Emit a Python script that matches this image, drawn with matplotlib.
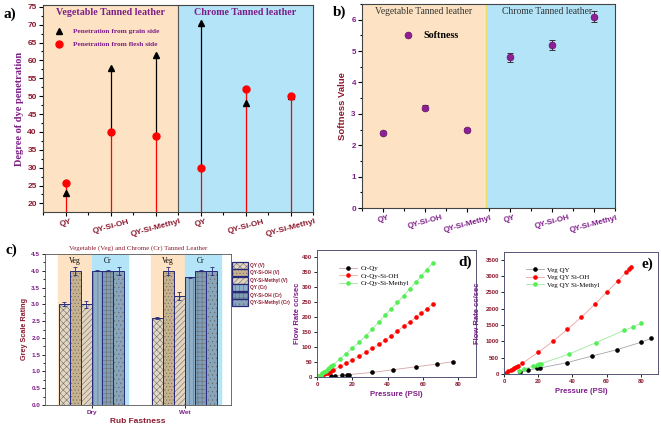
import matplotlib.pyplot as plt
from matplotlib.lines import Line2D
from matplotlib.patches import Patch
from matplotlib.legend_handler import HandlerTuple
from matplotlib.ticker import MultipleLocator

plt.rcParams['hatch.linewidth'] = 0.4
plt.rcParams['hatch.color'] = '#6e6e6e'

SERIF = 'Liberation Serif'
SANS = 'Liberation Sans'
MAROON = '#8b1a2e'
PURPLE = '#7d1d88'
ORANGE_BG = '#fde3c3'
BLUE_BG = '#b3e4f8'
NAVY = '#27297a'

samples = ["QY", "QY-Si-OH", "QY-Si-Methyl", "QY", "QY-Si-OH", "QY-Si-Methyl"]

# a) degree of dye penetration
grain_side = [23, 58, 61.5, 70.5, 48, 50]
flesh_side = [25.8, 40, 38.8, 30, 52, 50]

# b) softness
softness = [2.4, 3.2, 2.5, 4.8, 5.2, 6.1]
softness_err = [0.04, 0.07, 0.05, 0.14, 0.16, 0.17]

# c) rub fastness
rub_groups = ["Dry", "Wet"]
rub_series = ["QY (V)", "QY-Si-OH (V)", "QY-Si-Methyl (V)",
              "QY (Cr)", "QY-Si-OH (Cr)", "QY-Si-Methyl (Cr)"]
rub_dry = [3.0, 4.0, 3.0, 4.0, 4.0, 4.0]
rub_wet = [2.6, 4.0, 3.25, 3.8, 4.0, 4.0]
rub_dry_err = [0.06, 0.12, 0.11, 0.01, 0.01, 0.12]
rub_wet_err = [0.03, 0.12, 0.11, 0.01, 0.01, 0.12]

# d) chrome tanned flow rate
cr_qy_p = [8, 10, 14, 17, 18, 31, 43, 56, 68, 77]
cr_qy_f = [3, 3, 5, 7, 8, 15, 24, 34, 43, 51]
cr_oh_p = [1, 2, 3, 4, 5, 6, 7, 8, 9, 13, 16.5, 20, 24, 27.5, 31, 35,
           38.5, 42, 45.5, 49, 52.5, 56, 59, 62, 65.5]
cr_oh_f = [2, 4, 7, 9, 12, 14, 17, 20, 23, 35, 46, 58, 70, 82, 95, 108,
           122, 136, 153, 168, 183, 198, 212, 226, 243]
cr_me_p = [1, 2, 3, 4, 5, 6, 7, 8, 9, 13, 16.5, 20, 24, 27.5, 31, 35,
           38.5, 42, 45.5, 49, 52.5, 56, 59, 62, 65.5]
cr_me_f = [4, 8, 12, 16, 21, 26, 30, 35, 40, 60, 78, 96, 116, 136, 158,
           183, 205, 227, 248, 270, 293, 315, 335, 357, 378]

# e) vegetable tanned flow rate
veg_qy_p = [9.4, 14.3, 19.4, 21, 36.7, 51.4, 66, 79.8, 85.9]
veg_qy_f = [60, 122, 173, 183, 346, 549, 743, 966, 1088]
veg_oh_p = [1.4, 2.5, 3.8, 5, 6, 7, 8, 10.6, 20, 28.8, 37, 45, 53, 60,
            66.5, 71.4, 73.3, 74.3]
veg_oh_f = [40, 80, 120, 160, 195, 225, 255, 326, 661, 1007, 1363, 1729,
            2126, 2503, 2838, 3113, 3215, 3265]
veg_me_p = [8.8, 11.6, 17, 19.4, 20.6, 21.6, 38, 53.7, 70, 75.3, 80]
veg_me_f = [100, 150, 245, 285, 305, 315, 610, 956, 1333, 1434, 1546]


def style_ticks(ax, color, size, family=SANS):
    for lab in ax.get_xticklabels() + ax.get_yticklabels():
        lab.set_color(color)
        lab.set_fontsize(size)
        lab.set_fontweight('bold')
        lab.set_family(family)


def plot_penetration(ax):
    x = list(range(len(samples)))
    ax.axvspan(-0.5, 2.5, color=ORANGE_BG, zorder=0)
    ax.axvspan(2.5, 5.5, color=BLUE_BG, zorder=0)
    ax.axvline(2.5, color='#555555', lw=0.8, zorder=1)
    ymin = 17.6
    ax.vlines(x, ymin, flesh_side, colors='red', lw=0.9, zorder=2)
    ax.vlines(x, flesh_side, [max(g, f) for g, f in zip(grain_side, flesh_side)],
              colors='black', lw=0.9, zorder=2)
    ax.plot(x, grain_side, '^', color='black', ms=5, zorder=3)
    ax.plot(x, flesh_side, 'o', color='red', ms=5, zorder=4)
    ax.set_xlim(-0.5, 5.5)
    ax.set_ylim(ymin, 75.5)
    ax.set_xticks(x)
    ax.set_xticklabels(samples, rotation=15, ha='center')
    ax.xaxis.set_minor_locator(MultipleLocator(0.5))
    ax.yaxis.set_major_locator(MultipleLocator(5))
    ax.yaxis.set_minor_locator(MultipleLocator(2.5))
    ax.tick_params(which='both', direction='out', length=3, width=0.8, pad=1.5)
    ax.tick_params(which='minor', length=1.8)
    style_ticks(ax, MAROON, 6)
    ax.set_ylabel("Degree of dye penetration", family=SERIF, fontweight='bold',
                  fontsize=7.5, color=PURPLE, labelpad=2)
    ax.text(1.0, 73.5, "Vegetable Tanned leather", family=SERIF, fontweight='bold',
            fontsize=7.2, color=PURPLE, ha='center', va='center')
    ax.text(4.0, 73.5, "Chrome Tanned leather", family=SERIF, fontweight='bold',
            fontsize=7.2, color=PURPLE, ha='center', va='center')
    handles = [Line2D([], [], marker='^', ls='none', color='black', ms=5),
               Line2D([], [], marker='o', ls='none', color='red', ms=5)]
    ax.legend(handles, ["Penetration from grain side", "Penetration from flesh side"],
              loc='upper left', bbox_to_anchor=(0.02, 0.92), frameon=False,
              handletextpad=1.2, labelspacing=0.9, handlelength=1.2,
              prop={'family': SERIF, 'weight': 'bold', 'size': 5.3},
              labelcolor=PURPLE)
    for s in ax.spines.values():
        s.set_color('#444444')
        s.set_linewidth(0.8)


def plot_softness(ax):
    x = list(range(len(samples)))
    ax.axvspan(-0.5, 2.45, color=ORANGE_BG, zorder=0)
    ax.axvspan(2.45, 5.5, color=BLUE_BG, zorder=0)
    ax.axvline(2.45, color='#e8e070', lw=0.8, zorder=1)
    ax.errorbar(x, softness, yerr=softness_err, fmt='none', ecolor='#333333',
                elinewidth=0.7, capsize=2, capthick=0.7, zorder=2)
    ax.plot(x, softness, 'o', color='#8e1f94', mec='#5a1060', mew=0.4, ms=5, zorder=3)
    ax.plot([0.6], [5.5], 'o', color='#8e1f94', mec='#5a1060', mew=0.4, ms=5)
    ax.text(0.95, 5.5, "Softness", family=SERIF, fontweight='bold', fontsize=7.2,
            color='black', va='center')
    ax.set_xlim(-0.5, 5.5)
    ax.set_ylim(0, 6.5)
    ax.set_xticks(x)
    ax.set_xticklabels(samples, rotation=15, ha='center')
    ax.xaxis.set_minor_locator(MultipleLocator(0.5))
    ax.yaxis.set_minor_locator(MultipleLocator(0.5))
    ax.tick_params(which='both', direction='out', length=3, width=0.8, pad=1.5)
    ax.tick_params(which='minor', length=1.8)
    style_ticks(ax, PURPLE, 5.8)
    ax.set_ylabel("Softness Value", family=SANS, fontweight='bold', fontsize=6.8,
                  color=MAROON, labelpad=3)
    ax.text(0.95, 6.25, "Vegetable Tanned leather", family=SERIF, fontsize=6.9,
            color='#333333', ha='center', va='center')
    ax.text(3.9, 6.25, "Chrome Tanned leather", family=SERIF, fontsize=6.9,
            color='#333333', ha='center', va='center')
    for s in ax.spines.values():
        s.set_color('#444444')
        s.set_linewidth(0.8)


def plot_rub(ax, fig):
    w = 0.118
    faces = ['#e4d7c1', '#c8b28d', '#e2d4be', '#8fb0c8', '#7e9fb8', '#88a5bb']
    hatches = ['xxxxx', '.....', '//////', '||||', '++++', '....']
    for c in range(len(rub_groups)):
        ax.axvspan(c - 3 * w - 0.005, c, ymax=1.0, color=ORANGE_BG, zorder=0)
        ax.axvspan(c, c + 3 * w + 0.035, color=BLUE_BG, zorder=0)
        ax.text(c - 1.5 * w, 4.3, "Veg", family=SERIF, fontsize=5.5,
                color='black', ha='center', va='center')
        ax.text(c + 1.5 * w, 4.3, "Cr", family=SERIF, fontsize=5.5,
                color='black', ha='center', va='center')
    handles = []
    for i in range(len(rub_series)):
        pos = [c + (i - 2.5) * w for c in range(len(rub_groups))]
        vals = [rub_dry[i], rub_wet[i]]
        errs = [rub_dry_err[i], rub_wet_err[i]]
        ax.bar(pos, vals, w, color=faces[i], hatch=hatches[i], zorder=2)
        ax.bar(pos, vals, w, fill=False, edgecolor=NAVY, lw=0.7, zorder=3)
        ax.errorbar(pos, vals, yerr=errs, fmt='none', ecolor=NAVY, elinewidth=0.6,
                    capsize=1.6, capthick=0.6, zorder=4)
        handles.append((Patch(facecolor=faces[i], hatch=hatches[i]),
                        Patch(fill=False, edgecolor=NAVY, lw=0.9)))
    ax.set_xlim(-0.5, 1.5)
    ax.set_ylim(0, 4.5)
    ax.set_xticks(range(len(rub_groups)))
    ax.set_xticklabels(rub_groups)
    ax.yaxis.set_major_locator(MultipleLocator(0.5))
    ax.yaxis.set_minor_locator(MultipleLocator(0.25))
    ax.tick_params(which='both', direction='out', length=2, width=0.6, pad=1.5)
    ax.tick_params(which='minor', length=1.2)
    style_ticks(ax, PURPLE, 4.6)
    ax.set_ylabel("Grey Scale Rating", family=SANS, fontweight='bold', fontsize=5.2,
                  color=MAROON, labelpad=2)
    ax.set_xlabel("Rub Fastness", family=SANS, fontweight='bold', fontsize=6,
                  color=MAROON, labelpad=2)
    ax.set_title("Vegetable (Veg) and Chrome (Cr) Tanned Leather", family=SERIF,
                 fontsize=5, color=MAROON, pad=3)
    for s in ax.spines.values():
        s.set_color('#555555')
        s.set_linewidth(0.6)
    fig.legend(handles, rub_series, loc='upper left',
               bbox_to_anchor=(232 / 661, 1 - 262 / 428), frameon=False,
               handler_map={tuple: HandlerTuple(ndivide=1, pad=0)},
               handlelength=3.4, handleheight=1.9, handletextpad=0.4,
               labelspacing=0.1, borderaxespad=0, borderpad=0,
               prop={'family': SANS, 'size': 3.4, 'weight': 'bold'},
               labelcolor=MAROON)


def flow_axes(ax, ymax, ystep, label, ypad):
    ax.set_xlim(0, 90)
    ax.set_ylim(0, ymax)
    ax.xaxis.set_major_locator(MultipleLocator(20))
    ax.yaxis.set_major_locator(MultipleLocator(ystep))
    ax.tick_params(which='both', direction='out', length=2, width=0.6, pad=1.5)
    style_ticks(ax, MAROON, 4.3)
    ax.set_xlabel("Pressure (PSI)", family=SANS, fontweight='bold', fontsize=5.5,
                  color=PURPLE, labelpad=3)
    ax.set_ylabel("Flow Rate cc/sec", family=SANS, fontweight='bold', fontsize=5.5,
                  color=PURPLE, labelpad=ypad)
    ax.text(0.93, 0.9, label, transform=ax.transAxes, family=SERIF,
            fontweight='bold', fontsize=11, ha='center', va='center')
    for s in ax.spines.values():
        s.set_color('#555577')
        s.set_linewidth(0.7)


def plot_flow(ax, series, ymax, ystep, label, ypad=3):
    for p, f, mc, lc, name in series:
        ax.plot(p, f, '-o', color=lc, lw=0.6, ms=2.3, mfc=mc, mec=mc, label=name)
    flow_axes(ax, ymax, ystep, label, ypad)
    ax.legend(loc='upper left', bbox_to_anchor=(0.1, 0.93), frameon=False,
              handlelength=2.6, handletextpad=0.5, labelspacing=0.25,
              prop={'family': SERIF, 'size': 5})


fig = plt.figure(figsize=(6.61, 4.28), dpi=100)
ax_a = fig.add_axes([43 / 661, 1 - 212 / 428, 270 / 661, 207 / 428])
ax_b = fig.add_axes([362 / 661, 1 - 208 / 428, 253 / 661, 204 / 428])
ax_c = fig.add_axes([45 / 661, 1 - 405 / 428, 186 / 661, 151 / 428])
ax_d = fig.add_axes([317 / 661, 1 - 377 / 428, 159 / 661, 127 / 428])
ax_e = fig.add_axes([504 / 661, 1 - 374 / 428, 154 / 661, 122 / 428])

plot_penetration(ax_a)
plot_softness(ax_b)
plot_rub(ax_c, fig)
plot_flow(ax_d, [(cr_qy_p, cr_qy_f, 'black', '#d4a4a4', "Cr-Qy"),
                 (cr_oh_p, cr_oh_f, 'red', '#f0b090', "Cr-Qy-Si-OH"),
                 (cr_me_p, cr_me_f, '#55ee55', '#9be89b', "Cr-Qy-Si-Methyl")],
          422, 50, "d)", ypad=1)
plot_flow(ax_e, [(veg_qy_p, veg_qy_f, 'black', '#a0a8a8', "Veg QY"),
                 (veg_oh_p, veg_oh_f, 'red', '#f0a0a0', "Veg QY Si-OH"),
                 (veg_me_p, veg_me_f, '#55ee55', '#9be89b', "Veg QY Si-Methyl")],
          3730, 500, "e)")

for txt, x, y in [("a)", 4, 14), ("b)", 333, 12), ("c)", 6, 250)]:
    fig.text(x / 661, 1 - y / 428, txt, family=SERIF, fontweight='bold',
             fontsize=11, va='center')

fig.savefig("out.png", dpi=100)
